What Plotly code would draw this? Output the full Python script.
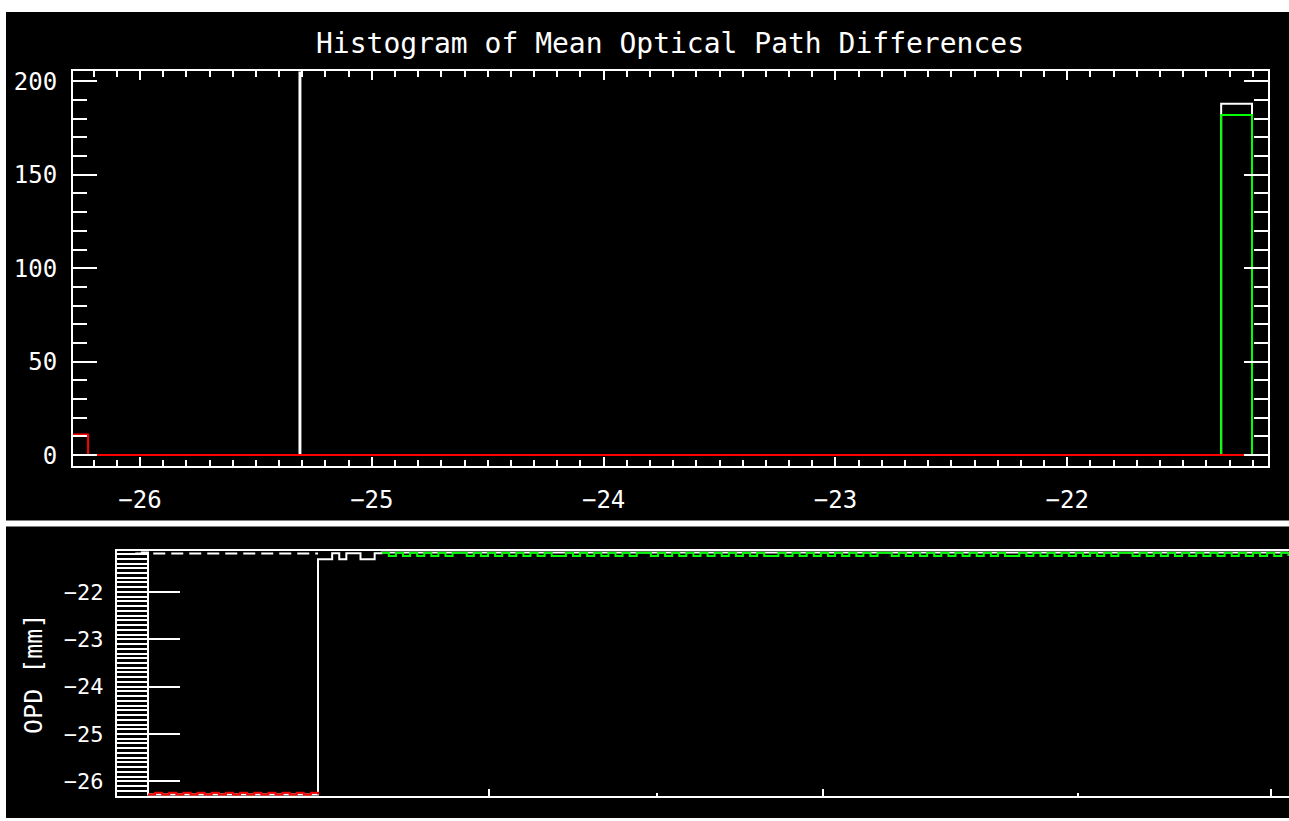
import plotly.graph_objects as go

W, H = 1289, 821

# ---------------- top panel: histogram data ----------------
title_text = "Histogram of Mean Optical Path Differences"
white_edges = [-26.289, -25.312, -25.308, -21.336, -21.203, -21.134]
white_counts = [0, 1000, 0, 188, 0]
green_edges = [-26.289, -21.336, -21.203, -21.134]
green_counts = [0, 182, 0]
red_edges = [-26.289, -26.224, -21.134]
red_counts = [11, 0]

hist_x_range = [-26.289, -21.134]
hist_y_range = [-5.835, 205.3]
hist_xticks = [-26, -25, -24, -23, -22]
hist_yticks = [0, 50, 100, 150, 200]

# ---------------- bottom panel: OPD time series ----------------
white_step_idx = [-1, 0, 24, 26, 27, 28, 30, 32, 33, 161]
white_step_opd = [-21.16, -26.28, -21.31, -21.18, -21.31, -21.18, -21.31, -21.18, -21.165, -21.165]

ref_idx = [-1.8, 24.0]
ref_opd = [-21.19, -21.19]

red_idx = list(range(0, 25))
red_opd = [-26.28, -26.24, -26.28, -26.24, -26.28, -26.24, -26.28, -26.24, -26.28, -26.24,
           -26.28, -26.24, -26.28, -26.24, -26.28, -26.24, -26.28, -26.24, -26.28, -26.24,
           -26.28, -26.24, -26.28, -26.24, -26.28]

green_idx = list(range(33, 162))
green_opd = [
    -21.17, -21.24, -21.17, -21.24, -21.17, -21.24, -21.17, -21.24, -21.17, -21.24, -21.17, -21.17, -21.24, -21.17, -21.24, -21.17,
    -21.24, -21.17, -21.24, -21.17, -21.24, -21.17, -21.24, -21.17, -21.24, -21.24, -21.17, -21.24, -21.17, -21.24, -21.17, -21.24,
    -21.17, -21.24, -21.17, -21.24, -21.17, -21.17, -21.24, -21.17, -21.24, -21.17, -21.24, -21.17, -21.24, -21.17, -21.24, -21.17,
    -21.24, -21.17, -21.24, -21.17, -21.24, -21.17, -21.24, -21.24, -21.17, -21.24, -21.17, -21.24, -21.17, -21.24, -21.17, -21.24,
    -21.17, -21.24, -21.17, -21.24, -21.17, -21.24, -21.17, -21.17, -21.24, -21.17, -21.24, -21.17, -21.24, -21.17, -21.24, -21.17,
    -21.24, -21.17, -21.24, -21.17, -21.24, -21.17, -21.24, -21.17, -21.24, -21.24, -21.17, -21.24, -21.17, -21.24, -21.17, -21.24,
    -21.17, -21.24, -21.17, -21.24, -21.17, -21.24, -21.17, -21.24, -21.17, -21.17, -21.24, -21.17, -21.24, -21.17, -21.24, -21.17,
    -21.24, -21.17, -21.24, -21.17, -21.24, -21.17, -21.24, -21.17, -21.24, -21.17, -21.24, -21.17, -21.24, -21.17, -21.24, -21.17,
    -21.24,
]

opd_x_range = [-4.377, 161.09]
opd_y_range = [-26.314, -21.141]
opd_yticks = [-26, -25, -24, -23, -22]
opd_xticks_major = [48.1, 95.3, 158.5]
opd_xticks_minor = [71.9, 131.3]
opd_ytitle = "OPD [mm]"

FONT = "DejaVu Sans Mono"
WHITE = "#ffffff"
GREEN = "#00ff00"
RED = "#ff0000"

fig = go.Figure()

def step_trace(edges, counts, color, xa, ya):
    return go.Scatter(x=edges, y=counts + [counts[-1]], mode="lines", line_shape="hv",
                      line=dict(color=color, width=2), xaxis=xa, yaxis=ya, hoverinfo="skip")

fig.add_trace(step_trace(white_edges, white_counts, WHITE, "x", "y"))
fig.add_trace(step_trace(green_edges, green_counts, GREEN, "x", "y"))
fig.add_trace(step_trace(red_edges, red_counts, RED, "x", "y"))

fig.add_trace(go.Scatter(x=white_step_idx, y=white_step_opd, mode="lines", line_shape="hv",
                         line=dict(color=WHITE, width=2), xaxis="x2", yaxis="y2"))
fig.add_trace(go.Scatter(x=ref_idx, y=ref_opd, mode="lines",
                         line=dict(color=WHITE, width=2, dash="12px,6px"), xaxis="x2", yaxis="y2"))
fig.add_trace(go.Scatter(x=red_idx, y=red_opd, mode="lines", line_shape="hv",
                         line=dict(color=RED, width=2), xaxis="x2", yaxis="y2"))
fig.add_trace(go.Scatter(x=green_idx, y=green_opd, mode="lines", line_shape="hv",
                         line=dict(color=GREEN, width=2), xaxis="x2", yaxis="y2"))

common = dict(showgrid=False, zeroline=False, showline=True, linecolor=WHITE, linewidth=2,
              ticks="inside", tickcolor=WHITE, tickwidth=2,
              tickfont=dict(family=FONT, size=24, color=WHITE))

fig.update_layout(
    width=W, height=H, margin=dict(l=0, r=0, t=0, b=0),
    paper_bgcolor="white", plot_bgcolor="black", showlegend=False,
    title=dict(text=title_text, x=670 / W, y=1 - 43 / H, xanchor="center", yanchor="middle",
               font=dict(family=FONT, size=28, color=WHITE)),
    xaxis=dict(common, domain=[73 / W, 1268 / W], range=hist_x_range, tickmode="array",
               tickvals=hist_xticks, ticktext=[f"\u2212{abs(v)}" for v in hist_xticks],
               ticklen=9, mirror="ticks", anchor="y", ticklabelstandoff=11,
               minor=dict(dtick=0.1, tick0=0, ticklen=6, ticks="inside", tickcolor=WHITE, tickwidth=2)),
    yaxis=dict(common, domain=[1 - 466 / H, 1 - 68 / H], range=hist_y_range, tickmode="array",
               tickvals=hist_yticks, ticklen=24, mirror="ticks", anchor="x", ticklabelstandoff=9,
               minor=dict(dtick=10, tick0=0, ticklen=14, ticks="inside", tickcolor=WHITE, tickwidth=2)),
    xaxis2=dict(common, domain=[117 / W, 1.0], range=opd_x_range, anchor="y2", mirror=True,
                tickmode="array", tickvals=opd_xticks_major, ticklen=7, showticklabels=False,
                minor=dict(tickmode="array", tickvals=opd_xticks_minor, ticklen=3, ticks="inside",
                           tickcolor=WHITE, tickwidth=2)),
    yaxis2=dict(common, domain=[1 - 799 / H, 1 - 552 / H], range=opd_y_range, anchor="x2",
                tickmode="array", tickvals=opd_yticks, ticktext=[f"\u2212{abs(v)}" for v in opd_yticks],
                ticklen=63, ticklabelstandoff=7,
                tickfont=dict(family=FONT, size=22, color=WHITE),
                title=dict(text=opd_ytitle, standoff=14, font=dict(family=FONT, size=25, color=WHITE)),
                minor=dict(dtick=0.1, tick0=0, ticklen=31, ticks="inside", tickcolor=WHITE, tickwidth=2)),
    shapes=[
        dict(type="rect", xref="paper", yref="paper", x0=6 / W, x1=1, y0=1 - 521 / H, y1=1 - 8 / H,
             fillcolor="black", line=dict(width=0), layer="below"),
        dict(type="rect", xref="paper", yref="paper", x0=6 / W, x1=1, y0=0, y1=1 - 527 / H,
             fillcolor="black", line=dict(width=0), layer="below"),
    ],
)

fig.write_html("out.html")
